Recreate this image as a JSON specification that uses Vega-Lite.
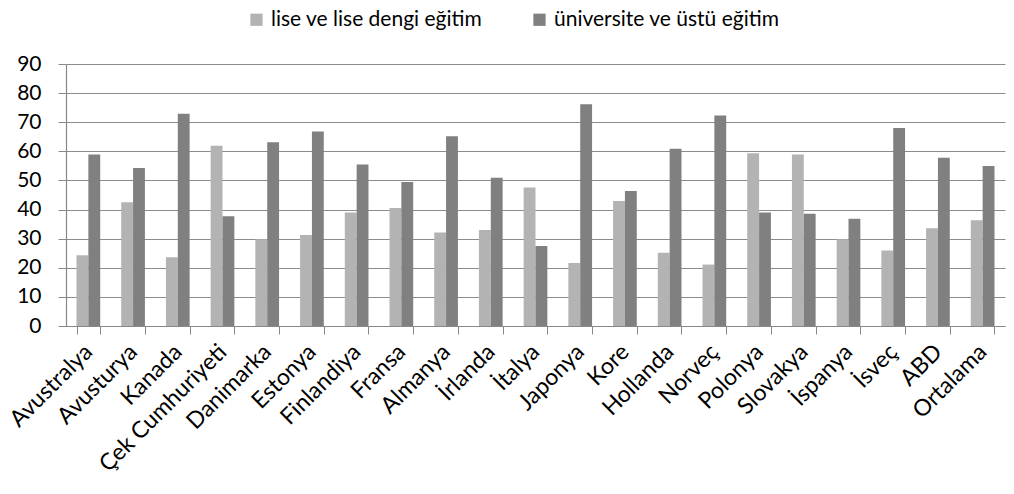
{
  "$schema": "https://vega.github.io/schema/vega-lite/v6.json",
  "width": 939,
  "height": 262,
  "autosize": {"type": "none"},
  "padding": {"left": 66, "top": 64, "right": 9, "bottom": 168},
  "background": "white",
  "config": {
    "font": "Lato",
    "view": {"stroke": null}
  },
  "data": {
    "values": [
      {"ulke": "Avustralya", "seri": "lise ve lise dengi eğitim", "deger": 24.3},
      {"ulke": "Avustralya", "seri": "üniversite ve üstü eğitim", "deger": 58.9},
      {"ulke": "Avusturya", "seri": "lise ve lise dengi eğitim", "deger": 42.5},
      {"ulke": "Avusturya", "seri": "üniversite ve üstü eğitim", "deger": 54.3},
      {"ulke": "Kanada", "seri": "lise ve lise dengi eğitim", "deger": 23.6},
      {"ulke": "Kanada", "seri": "üniversite ve üstü eğitim", "deger": 72.9},
      {"ulke": "Çek Cumhuriyeti", "seri": "lise ve lise dengi eğitim", "deger": 61.9},
      {"ulke": "Çek Cumhuriyeti", "seri": "üniversite ve üstü eğitim", "deger": 37.7},
      {"ulke": "Danimarka", "seri": "lise ve lise dengi eğitim", "deger": 29.8},
      {"ulke": "Danimarka", "seri": "üniversite ve üstü eğitim", "deger": 63.1},
      {"ulke": "Estonya", "seri": "lise ve lise dengi eğitim", "deger": 31.3},
      {"ulke": "Estonya", "seri": "üniversite ve üstü eğitim", "deger": 66.8},
      {"ulke": "Finlandiya", "seri": "lise ve lise dengi eğitim", "deger": 39.0},
      {"ulke": "Finlandiya", "seri": "üniversite ve üstü eğitim", "deger": 55.5},
      {"ulke": "Fransa", "seri": "lise ve lise dengi eğitim", "deger": 40.5},
      {"ulke": "Fransa", "seri": "üniversite ve üstü eğitim", "deger": 49.5},
      {"ulke": "Almanya", "seri": "lise ve lise dengi eğitim", "deger": 32.1},
      {"ulke": "Almanya", "seri": "üniversite ve üstü eğitim", "deger": 65.2},
      {"ulke": "İrlanda", "seri": "lise ve lise dengi eğitim", "deger": 33.0},
      {"ulke": "İrlanda", "seri": "üniversite ve üstü eğitim", "deger": 50.9},
      {"ulke": "İtalya", "seri": "lise ve lise dengi eğitim", "deger": 47.6},
      {"ulke": "İtalya", "seri": "üniversite ve üstü eğitim", "deger": 27.5},
      {"ulke": "Japonya", "seri": "lise ve lise dengi eğitim", "deger": 21.6},
      {"ulke": "Japonya", "seri": "üniversite ve üstü eğitim", "deger": 76.2},
      {"ulke": "Kore", "seri": "lise ve lise dengi eğitim", "deger": 42.9},
      {"ulke": "Kore", "seri": "üniversite ve üstü eğitim", "deger": 46.4},
      {"ulke": "Hollanda", "seri": "lise ve lise dengi eğitim", "deger": 25.2},
      {"ulke": "Hollanda", "seri": "üniversite ve üstü eğitim", "deger": 60.9},
      {"ulke": "Norveç", "seri": "lise ve lise dengi eğitim", "deger": 21.1},
      {"ulke": "Norveç", "seri": "üniversite ve üstü eğitim", "deger": 72.3},
      {"ulke": "Polonya", "seri": "lise ve lise dengi eğitim", "deger": 59.3},
      {"ulke": "Polonya", "seri": "üniversite ve üstü eğitim", "deger": 39.0},
      {"ulke": "Slovakya", "seri": "lise ve lise dengi eğitim", "deger": 58.9},
      {"ulke": "Slovakya", "seri": "üniversite ve üstü eğitim", "deger": 38.6},
      {"ulke": "İspanya", "seri": "lise ve lise dengi eğitim", "deger": 29.8},
      {"ulke": "İspanya", "seri": "üniversite ve üstü eğitim", "deger": 36.8},
      {"ulke": "İsveç", "seri": "lise ve lise dengi eğitim", "deger": 25.9},
      {"ulke": "İsveç", "seri": "üniversite ve üstü eğitim", "deger": 68.0},
      {"ulke": "ABD", "seri": "lise ve lise dengi eğitim", "deger": 33.6},
      {"ulke": "ABD", "seri": "üniversite ve üstü eğitim", "deger": 57.8},
      {"ulke": "Ortalama", "seri": "lise ve lise dengi eğitim", "deger": 36.3},
      {"ulke": "Ortalama", "seri": "üniversite ve üstü eğitim", "deger": 55.0}
    ]
  },
  "mark": {"type": "bar"},
  "encoding": {
    "x": {
      "field": "ulke",
      "type": "nominal",
      "sort": null,
      "title": null,
      "scale": {"paddingInner": 0.47, "paddingOuter": 0.235},
      "axis": {
        "labelAngle": -45,
        "labelAlign": "right",
        "labelBaseline": "middle",
        "labelFontSize": 23,
        "labelColor": "#000000",
        "labelPadding": 14,
        "labelLimit": 300,
        "labelOverlap": false,
        "tickBand": "extent",
        "tickSize": 8,
        "tickColor": "#888888",
        "domainColor": "#888888",
        "domainWidth": 1.2,
        "grid": false
      }
    },
    "xOffset": {
      "field": "seri",
      "type": "nominal",
      "scale": {"domain": ["lise ve lise dengi eğitim", "üniversite ve üstü eğitim"], "paddingInner": 0}
    },
    "y": {
      "field": "deger",
      "type": "quantitative",
      "title": null,
      "scale": {"domain": [0, 90], "nice": false},
      "axis": {
        "values": [0, 10, 20, 30, 40, 50, 60, 70, 80, 90],
        "labelFontSize": 21,
        "labelColor": "#000000",
        "labelPadding": 17,
        "tickSize": 8,
        "tickColor": "#888888",
        "domainColor": "#888888",
        "domainWidth": 1.2,
        "grid": true,
        "gridColor": "#8c8c8c",
        "gridWidth": 1.2
      }
    },
    "color": {
      "field": "seri",
      "type": "nominal",
      "title": null,
      "scale": {"domain": ["lise ve lise dengi eğitim", "üniversite ve üstü eğitim"], "range": ["#b3b3b3", "#808080"]},
      "legend": {
        "orient": "none",
        "legendX": 180,
        "legendY": -55,
        "direction": "horizontal",
        "symbolType": "square",
        "symbolSize": 150,
        "symbolStrokeWidth": 0,
        "labelFontSize": 21,
        "labelLimit": 400,
        "labelColor": "#000000",
        "labelOffset": 4,
        "columnPadding": 46
      }
    }
  }
}
